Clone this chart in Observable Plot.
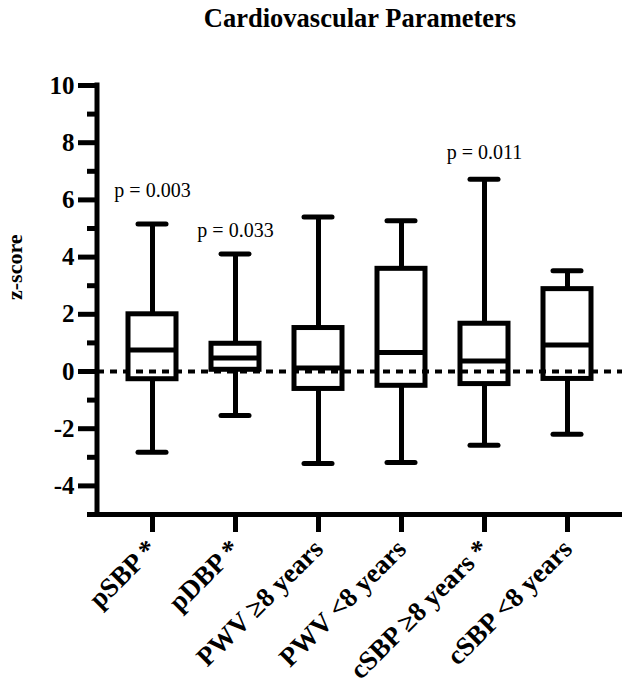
<!DOCTYPE html>
<html><head><meta charset="utf-8">
<script src="https://cdn.jsdelivr.net/npm/d3@7"></script>
<script src="https://cdn.jsdelivr.net/npm/@observablehq/plot@0.6"></script>
<style>
body{margin:0;background:#fff;}
#title{font-family:"Liberation Serif",serif;font-weight:bold;font-size:26.5px;line-height:36px;height:36px;text-align:center;padding-left:90px;color:#000;}
</style></head><body>
<div id="title">Cardiovascular Parameters</div>
<div id="chart"></div>
<script>
const categories = ["pSBP *", "pDBP *", "PWV ≥8 years", "PWV <8 years", "cSBP ≥8 years *", "cSBP <8 years"];
const whiskerMin = [-2.82, -1.54, -3.22, -3.18, -2.58, -2.19];
const q1 = [-0.27, 0.06, -0.61, -0.50, -0.44, -0.26];
const median = [0.75, 0.47, 0.12, 0.66, 0.37, 0.93];
const q3 = [2.0, 0.97, 1.52, 3.59, 1.67, 2.88];
const whiskerMax = [5.16, 4.11, 5.40, 5.27, 6.72, 3.52];
const pCategories = ["pSBP *", "pDBP *", "cSBP ≥8 years *"];
const pLabels = ["p = 0.003", "p = 0.033", "p = 0.011"];
const pLabelY = [6.34, 4.94, 7.64];
const majorTicks = [-4, -2, 0, 2, 4, 6, 8, 10];
const minorTicks = [-5, -3, -1, 1, 3, 5, 7, 9];

const boxes = categories.map((c, i) => ({cat: c, min: whiskerMin[i], q1: q1[i], med: median[i], q3: q3[i], max: whiskerMax[i]}));

const yAxisLine = (index, scales, values, dims) => {
  const ns = "http://www.w3.org/2000/svg";
  const l = document.createElementNS(ns, "line");
  l.setAttribute("x1", dims.marginLeft);
  l.setAttribute("x2", dims.marginLeft);
  l.setAttribute("y1", dims.marginTop);
  l.setAttribute("y2", dims.height - dims.marginBottom);
  l.setAttribute("stroke", "black");
  l.setAttribute("stroke-width", 5);
  l.setAttribute("stroke-linecap", "square");
  return l;
};

const plot = Plot.plot({
  width: 630, height: 651,
  marginTop: 49, marginBottom: 173, marginLeft: 97, marginRight: 8,
  style: {fontFamily: '"Liberation Serif", serif', fontWeight: "bold", color: "black", background: "white", overflow: "visible"},
  x: {domain: categories, paddingInner: 0.426, paddingOuter: 0.36, label: null},
  y: {domain: [-5, 10], label: null},
  marks: [
    Plot.ruleX(boxes, {x: "cat", y1: "q3", y2: "max", stroke: "black", strokeWidth: 5}),
    Plot.ruleX(boxes, {x: "cat", y1: "min", y2: "q1", stroke: "black", strokeWidth: 5}),
    Plot.tickY(boxes, {x: "cat", y: "max", stroke: "black", strokeWidth: 5, strokeLinecap: "round", insetLeft: 10, insetRight: 10}),
    Plot.tickY(boxes, {x: "cat", y: "min", stroke: "black", strokeWidth: 5, strokeLinecap: "round", insetLeft: 10, insetRight: 10}),
    Plot.barY(boxes, {x: "cat", y1: "q1", y2: "q3", fill: "none", stroke: "black", strokeWidth: 5}),
    Plot.tickY(boxes, {x: "cat", y: "med", stroke: "black", strokeWidth: 5}),
    Plot.ruleY([0], {stroke: "black", strokeWidth: 4, strokeDasharray: "7,6"}),
    Plot.ruleY([-5], {stroke: "black", strokeWidth: 5}),
    yAxisLine,
    Plot.axisY({ticks: majorTicks, tickSize: 19, tickPadding: 4, tickFormat: d => String(d), stroke: "black", strokeWidth: 5, fontSize: 25, fontWeight: "bold", fill: "black", label: null}),
    Plot.axisY({ticks: minorTicks, tickSize: 10, stroke: "black", strokeWidth: 5, tickFormat: () => "", label: null}),
    Plot.axisX({tickSize: 18, tickRotate: -45, tickPadding: 12, stroke: "black", strokeWidth: 5, fontSize: 27, fontWeight: "bold", fill: "black", label: null}),
    Plot.text(pLabels, {x: (d, i) => pCategories[i], y: (d, i) => pLabelY[i], text: d => d, fontSize: 20, fontWeight: "normal", fill: "black"}),
    Plot.text(["z-score"], {frameAnchor: "left", rotate: -90, dx: -83, text: d => d, fontSize: 22, fontWeight: "bold", fill: "black"})
  ]
});
document.getElementById("chart").appendChild(plot);
</script>
</body></html>
